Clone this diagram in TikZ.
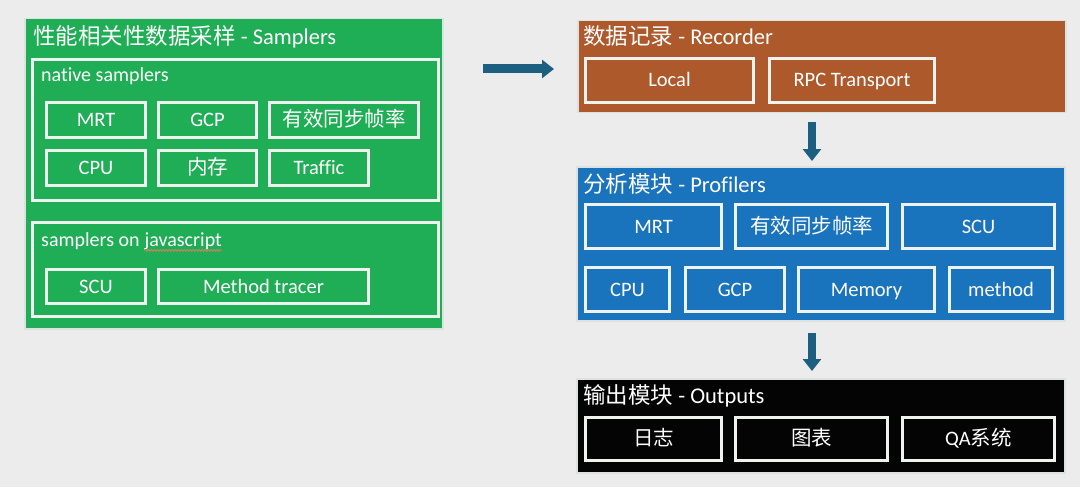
\documentclass[tikz,border=0pt]{standalone}
\usepackage{fontspec}
\setmainfont{Carlito}[Ligatures=NoCommon]
\newfontfamily\cjk{Noto Sans CJK SC}
\usepackage{xcolor}
\usetikzlibrary{positioning,arrows.meta,decorations.pathmorphing}
\definecolor{paper}{HTML}{ECECEC}
\definecolor{samplegreen}{HTML}{1FAD55}
\definecolor{recordbrown}{HTML}{AE592C}
\definecolor{profileblue}{HTML}{1A73BD}
\definecolor{outputblack}{HTML}{040404}
\definecolor{boxline}{HTML}{EEF3EF}
\definecolor{panelline}{HTML}{DCE3DE}
\definecolor{flowblue}{HTML}{1D5F80}
\definecolor{wavyred}{HTML}{D98060}

\begin{document}
\begin{tikzpicture}[x=1pt, y=-1pt,
  panel/.style = {draw=panelline, line width=1.5pt, anchor=north west, inner sep=0pt},
  group/.style = {draw=boxline, line width=3pt, anchor=north west, inner sep=0pt},
  item/.style = {draw=boxline, line width=3pt, inner sep=0pt, text height=13pt, text depth=0pt,
    text=white, font=\fontsize{20.5}{20.5}\selectfont},
  heading/.style = {anchor=west, inner sep=0pt, text=white, font=\fontsize{22.5}{22.5}\selectfont},
  grouptitle/.style = {anchor=west, inner sep=0pt, text=white, font=\fontsize{20}{20}\selectfont},
  flow/.style = {draw=flowblue, line width=9pt, -{Triangle[length=12pt,width=18pt]}}]

\fill[paper] (0,0) rectangle (1080,487);
\useasboundingbox (0,0) rectangle (1080,487);

% samplers
\node[panel, fill=samplegreen, minimum width=418pt, minimum height=310pt] (samplers) at (24,18) {};
\node[heading] (samplers-title) at (33,37) {{\cjk 性能相关性数据采样} - Samplers};
\node[group, minimum width=406pt, minimum height=141pt] (native) at (31,58) {};
\node[grouptitle] (native-title) at (41,76) {native samplers};
\node[item, minimum width=99pt, minimum height=35pt] (s-mrt) at (96,120) {MRT};
\node[item, minimum width=98pt, minimum height=35pt, right=10pt of s-mrt] (s-gcp) {GCP};
\node[item, minimum width=149pt, minimum height=35pt, right=10pt of s-gcp] (s-fps) {\cjk 有效同步帧率};
\node[item, minimum width=99pt, minimum height=35pt, below=10pt of s-mrt] (s-cpu) {CPU};
\node[item, minimum width=98pt, minimum height=35pt, right=10pt of s-cpu] (s-mem) {\cjk 内存};
\node[item, minimum width=99pt, minimum height=35pt, right=10pt of s-mem] (s-traffic) {Traffic};

\node[group, minimum width=406pt, minimum height=94pt] (jsgroup) at (31,221) {};
\node[grouptitle] (js-title) at (41,241) {samplers on};
\node[grouptitle, base right=4.5pt of js-title] (js-word) {javascript};
\draw[wavyred, line width=0.8pt, decorate, decoration={snake, amplitude=0.9pt, segment length=3pt}]
  ([yshift=-4pt]js-word.base west) -- ([yshift=-4pt]js-word.base east);
\node[item, minimum width=99pt, minimum height=34pt] (s-scu) at (96,286.5) {SCU};
\node[item, minimum width=210pt, minimum height=34pt, right=10pt of s-scu] (s-tracer) {Method tracer};

% recorder
\node[panel, fill=recordbrown, minimum width=488pt, minimum height=92pt] (recorder) at (577,20) {};
\node[heading] (recorder-title) at (583,36) {{\cjk 数据记录} - Recorder};
\node[item, minimum width=168pt, minimum height=44pt] (r-local) at (669.5,80.5) {Local};
\node[item, minimum width=165pt, minimum height=44pt, right=13pt of r-local] (r-rpc) {RPC Transport};

% profilers
\node[panel, fill=profileblue, minimum width=488pt, minimum height=154pt] (profilers) at (576,166) {};
\node[heading] (profilers-title) at (583,184) {{\cjk 分析模块} - Profilers};
\node[item, minimum width=136pt, minimum height=44pt] (p-mrt) at (653.5,226.5) {MRT};
\node[item, minimum width=152pt, minimum height=44pt, right=11pt of p-mrt] (p-fps) {\cjk 有效同步帧率};
\node[item, minimum width=152pt, minimum height=44pt, right=12pt of p-fps] (p-scu) {SCU};
\node[item, minimum width=84pt, minimum height=44pt] (p-cpu) at (627.5,289.5) {CPU};
\node[item, minimum width=99pt, minimum height=44pt, right=13pt of p-cpu] (p-gcp) {GCP};
\node[item, minimum width=136pt, minimum height=44pt, right=11pt of p-gcp] (p-memory) {Memory};
\node[item, minimum width=103pt, minimum height=44pt, right=12pt of p-memory] (p-method) {method};

% outputs
\node[panel, fill=outputblack, minimum width=488pt, minimum height=94pt] (outputs) at (576,378) {};
\node[heading] (outputs-title) at (583,396) {{\cjk 输出模块} - Outputs};
\node[item, minimum width=136pt, minimum height=43pt] (o-log) at (653.5,438.5) {\cjk 日志};
\node[item, minimum width=152pt, minimum height=43pt, right=11pt of o-log] (o-chart) {\cjk 图表};
\node[item, minimum width=152pt, minimum height=43pt, right=12pt of o-chart] (o-qa) {QA{\cjk 系统}};

% arrows
\coordinate (flow1-start) at (483,69);
\coordinate (flow1-end) at (554,69);
\coordinate (flow2-start) at (812,122);
\coordinate (flow2-end) at (812,161);
\coordinate (flow3-start) at (812,333);
\coordinate (flow3-end) at (812,371);
\draw[flow] (flow1-start) -- (flow1-end);
\draw[flow, line width=8pt] (flow2-start) -- (flow2-end);
\draw[flow, line width=8pt] (flow3-start) -- (flow3-end);

\end{tikzpicture}
\end{document}
